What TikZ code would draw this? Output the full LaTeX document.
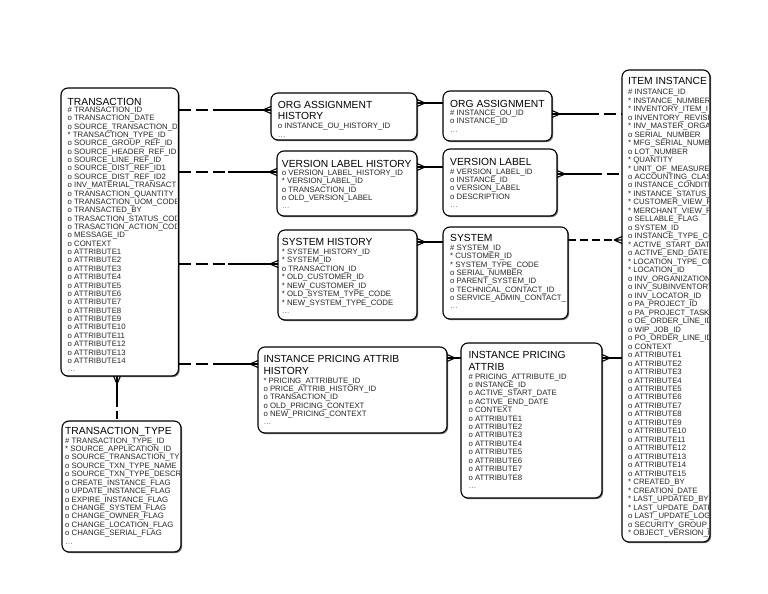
\documentclass[tikz,border=0pt]{standalone}
\usepackage{fontspec}
\newfontfamily\erfont{Liberation Sans}
\usetikzlibrary{calc,shadows}
\newcommand{\attrlist}[5]{\foreach \t [count=\i from 0] in {#5} {\node[attr] (#1-\i) at (#2,#3+\i*#4) {\t};}}
\newcommand{\crowW}[1]{\draw[conn] ($(#1)+(-8,0)$) -- ($(#1)+(0,-3.5)$) ($(#1)+(-8,0)$) -- (#1) ($(#1)+(-8,0)$) -- ($(#1)+(0,3.5)$);}
\newcommand{\crowE}[1]{\draw[conn] ($(#1)+(8,0)$) -- ($(#1)+(0,-3.5)$) ($(#1)+(8,0)$) -- (#1) ($(#1)+(8,0)$) -- ($(#1)+(0,3.5)$);}
\newcommand{\crowS}[1]{\draw[conn] ($(#1)+(0,8)$) -- ($(#1)+(-3.5,0)$) ($(#1)+(0,8)$) -- (#1) ($(#1)+(0,8)$) -- ($(#1)+(3.5,0)$);}
\newcommand{\clipbox}[1]{\clip ($(#1.north west)+(1.6,1.6)$) rectangle ($(#1.south east)+(-1.6,-1.6)$);}
\newcommand{\more}{\textcolor{black!60}{\ldots}}
\begin{document}
\begin{tikzpicture}[x=1pt,y=-1pt,
  ent/.style={draw=black, line width=1.1pt, rounded corners=7pt, fill=white, inner sep=0pt, outer sep=0pt, anchor=north west,
    drop shadow={shadow xshift=1.2pt, shadow yshift=-1.2pt, fill=black!70, opacity=0.8}},
  ttl/.style={anchor=base west, inner sep=0pt, font=\erfont\fontsize{10.3}{12}\selectfont},
  attr/.style={anchor=base west, inner sep=0pt, font=\erfont\fontsize{7.8}{8.4}\selectfont, text=black!85},
  conn/.style={line width=1.1pt, black},
  opt/.style={conn, dash pattern=on 12pt off 5pt},
]
\useasboundingbox[fill=white] (0,0) rectangle (768,594);

% ---------- entities ----------
\node[ent, minimum width=117.5pt, minimum height=288pt] (tr) at (61,88) {};
\node[ent, minimum width=119pt, minimum height=131pt] (tt) at (62,421) {};
\node[ent, minimum width=146pt, minimum height=47pt] (oah) at (271,93) {};
\node[ent, minimum width=140pt, minimum height=65pt] (vlh) at (277,151) {};
\node[ent, minimum width=139pt, minimum height=90pt] (sh) at (278,230) {};
\node[ent, minimum width=109pt, minimum height=50pt] (oa) at (443,91) {};
\node[ent, minimum width=114pt, minimum height=67pt] (vl) at (443,149) {};
\node[ent, minimum width=125pt, minimum height=92pt] (sys) at (443,227) {};
\node[ent, minimum width=189pt, minimum height=86pt] (ipah) at (258,347) {};
\node[ent, minimum width=141pt, minimum height=155pt] (ipa) at (461,343) {};
\node[ent, minimum width=88pt, minimum height=472pt] (item) at (622,70) {};

% ---------- TRANSACTION ----------
\begin{scope}
\clipbox{tr}
\node[ttl] (tr-t) at (67.5,105) {TRANSACTION};
\attrlist{tr}{67.5}{112.3}{8.37}{\# TRANSACTION\_ID, o TRANSACTION\_DATE, o SOURCE\_TRANSACTION\_D, * TRANSACTION\_TYPE\_ID, o SOURCE\_GROUP\_REF\_ID, o SOURCE\_HEADER\_REF\_ID, o SOURCE\_LINE\_REF\_ID, o SOURCE\_DIST\_REF\_ID1, o SOURCE\_DIST\_REF\_ID2, o INV\_MATERIAL\_TRANSACT, o TRANSACTION\_QUANTITY, o TRANSACTION\_UOM\_CODE, o TRANSACTED\_BY, o TRASACTION\_STATUS\_COD, o TRASACTION\_ACTION\_COD, o MESSAGE\_ID, o CONTEXT, o ATTRIBUTE1, o ATTRIBUTE2, o ATTRIBUTE3, o ATTRIBUTE4, o ATTRIBUTE5, o ATTRIBUTE6, o ATTRIBUTE7, o ATTRIBUTE8, o ATTRIBUTE9, o ATTRIBUTE10, o ATTRIBUTE11, o ATTRIBUTE12, o ATTRIBUTE13, o ATTRIBUTE14, \more}
\end{scope}

% ---------- TRANSACTION_TYPE ----------
\begin{scope}
\clipbox{tt}
\node[ttl] (tt-t) at (65,434.5) {TRANSACTION\_TYPE};
\attrlist{tt}{65}{443}{8.43}{\# TRANSACTION\_TYPE\_ID, * SOURCE\_APPLICATION\_ID, o SOURCE\_TRANSACTION\_TY, o SOURCE\_TXN\_TYPE\_NAME, o SOURCE\_TXN\_TYPE\_DESCR, o CREATE\_INSTANCE\_FLAG, o UPDATE\_INSTANCE\_FLAG, o EXPIRE\_INSTANCE\_FLAG, o CHANGE\_SYSTEM\_FLAG, o CHANGE\_OWNER\_FLAG, o CHANGE\_LOCATION\_FLAG, o CHANGE\_SERIAL\_FLAG, \more}
\end{scope}

% ---------- ORG ASSIGNMENT HISTORY ----------
\begin{scope}
\clipbox{oah}
\node[ttl] (oah-t1) at (277.7,108) {ORG ASSIGNMENT};
\node[ttl] (oah-t2) at (277.7,119.5) {HISTORY};
\attrlist{oah}{277.7}{128.7}{8.4}{o INSTANCE\_OU\_HISTORY\_ID, \more}
\end{scope}

% ---------- VERSION LABEL HISTORY ----------
\begin{scope}
\clipbox{vlh}
\node[ttl] (vlh-t) at (281.7,167) {VERSION LABEL HISTORY};
\attrlist{vlh}{281.7}{175.3}{8.4}{o VERSION\_LABEL\_HISTORY\_ID, * VERSION\_LABEL\_ID, o TRANSACTION\_ID, o OLD\_VERSION\_LABEL, \more}
\end{scope}

% ---------- SYSTEM HISTORY ----------
\begin{scope}
\clipbox{sh}
\node[ttl] (sh-t) at (281.7,245.7) {SYSTEM HISTORY};
\attrlist{sh}{281.7}{254.3}{8.45}{* SYSTEM\_HISTORY\_ID, * SYSTEM\_ID, o TRANSACTION\_ID, * OLD\_CUSTOMER\_ID, * NEW\_CUSTOMER\_ID, * OLD\_SYSTEM\_TYPE\_CODE, * NEW\_SYSTEM\_TYPE\_CODE, \more}
\end{scope}

% ---------- ORG ASSIGNMENT ----------
\begin{scope}
\clipbox{oa}
\node[ttl] (oa-t) at (450,107.3) {ORG ASSIGNMENT};
\attrlist{oa}{450}{115.3}{8.4}{\# INSTANCE\_OU\_ID, o INSTANCE\_ID, \more}
\end{scope}

% ---------- VERSION LABEL ----------
\begin{scope}
\clipbox{vl}
\node[ttl] (vl-t) at (450,165.3) {VERSION LABEL};
\attrlist{vl}{450}{174}{8.4}{\# VERSION\_LABEL\_ID, o INSTANCE\_ID, o VERSION\_LABEL, o DESCRIPTION, \more}
\end{scope}

% ---------- SYSTEM ----------
\begin{scope}
\clipbox{sys}
\node[ttl] (sys-t) at (450,241) {SYSTEM};
\attrlist{sys}{450}{250.5}{8.3}{\# SYSTEM\_ID, * CUSTOMER\_ID, * SYSTEM\_TYPE\_CODE, o SERIAL\_NUMBER, o PARENT\_SYSTEM\_ID, o TECHNICAL\_CONTACT\_ID, o SERVICE\_ADMIN\_CONTACT\_, \more}
\end{scope}

% ---------- INSTANCE PRICING ATTRIB HISTORY ----------
\begin{scope}
\clipbox{ipah}
\node[ttl] (ipah-t1) at (263.3,362.3) {INSTANCE PRICING ATTRIB};
\node[ttl] (ipah-t2) at (263.3,374.3) {HISTORY};
\attrlist{ipah}{263.3}{383.3}{8.25}{* PRICING\_ATTRIBUTE\_ID, o PRICE\_ATTRIB\_HISTORY\_ID, o TRANSACTION\_ID, o OLD\_PRICING\_CONTEXT, o NEW\_PRICING\_CONTEXT, \more}
\end{scope}

% ---------- INSTANCE PRICING ATTRIB ----------
\begin{scope}
\clipbox{ipa}
\node[ttl] (ipa-t1) at (468.3,358.3) {INSTANCE PRICING};
\node[ttl] (ipa-t2) at (468.3,370.3) {ATTRIB};
\attrlist{ipa}{468.3}{379}{8.42}{\# PRICING\_ATTRIBUTE\_ID, o INSTANCE\_ID, o ACTIVE\_START\_DATE, o ACTIVE\_END\_DATE, o CONTEXT, o ATTRIBUTE1, o ATTRIBUTE2, o ATTRIBUTE3, o ATTRIBUTE4, o ATTRIBUTE5, o ATTRIBUTE6, o ATTRIBUTE7, o ATTRIBUTE8, \more}
\end{scope}

% ---------- ITEM INSTANCE ----------
\begin{scope}
\clipbox{item}
\node[ttl] (item-t) at (628,84.7) {ITEM INSTANCE};
\attrlist{item}{628}{94.7}{8.48}{\# INSTANCE\_ID, * INSTANCE\_NUMBER, * INVENTORY\_ITEM\_I, o INVENTORY\_REVISI, * INV\_MASTER\_ORGAN, o SERIAL\_NUMBER, * MFG\_SERIAL\_NUMBE, o LOT\_NUMBER, * QUANTITY, * UNIT\_OF\_MEASURE, o ACCOUNTING\_CLAS, o INSTANCE\_CONDITI, * INSTANCE\_STATUS\_, * CUSTOMER\_VIEW\_F, * MERCHANT\_VIEW\_F, o SELLABLE\_FLAG, o SYSTEM\_ID, o INSTANCE\_TYPE\_CO, * ACTIVE\_START\_DAT, o ACTIVE\_END\_DATE, * LOCATION\_TYPE\_CO, * LOCATION\_ID, o INV\_ORGANIZATION, o INV\_SUBINVENTORY, o INV\_LOCATOR\_ID, o PA\_PROJECT\_ID, o PA\_PROJECT\_TASK, o OE\_ORDER\_LINE\_ID, o WIP\_JOB\_ID, o PO\_ORDER\_LINE\_ID, o CONTEXT, o ATTRIBUTE1, o ATTRIBUTE2, o ATTRIBUTE3, o ATTRIBUTE4, o ATTRIBUTE5, o ATTRIBUTE6, o ATTRIBUTE7, o ATTRIBUTE8, o ATTRIBUTE9, o ATTRIBUTE10, o ATTRIBUTE11, o ATTRIBUTE12, o ATTRIBUTE13, o ATTRIBUTE14, o ATTRIBUTE15, * CREATED\_BY, * CREATION\_DATE, * LAST\_UPDATED\_BY, * LAST\_UPDATE\_DATE, o LAST\_UPDATE\_LOGIN, o SECURITY\_GROUP\_ID, * OBJECT\_VERSION\_N}
\end{scope}

% ---------- connectors ----------
\coordinate (c1a) at (tr.east |- 0,110);  \coordinate (c1b) at (oah.west |- 0,110);
\coordinate (c2a) at (tr.east |- 0,172);  \coordinate (c2b) at (vlh.west |- 0,172);
\coordinate (c3a) at (tr.east |- 0,264);  \coordinate (c3b) at (sh.west |- 0,264);
\coordinate (c4a) at (tr.east |- 0,364);  \coordinate (c4b) at (ipah.west |- 0,364);
\coordinate (c5a) at (oah.east |- 0,103); \coordinate (c5b) at (oa.west |- 0,103);
\coordinate (c6a) at (vlh.east |- 0,167); \coordinate (c6b) at (vl.west |- 0,167);
\coordinate (c7a) at (sh.east |- 0,242);  \coordinate (c7b) at (sys.west |- 0,242);
\coordinate (c8a) at (ipah.east |- 0,358); \coordinate (c8b) at (ipa.west |- 0,358);
\coordinate (c9a) at (oa.east |- 0,114);  \coordinate (c9b) at (item.west |- 0,114);
\coordinate (c10a) at (vl.east |- 0,174); \coordinate (c10b) at (item.west |- 0,174);
\coordinate (c11a) at (sys.east |- 0,240); \coordinate (c11b) at (item.west |- 0,240);
\coordinate (c12a) at (ipa.east |- 0,358); \coordinate (c12b) at (item.west |- 0,358);
\coordinate (c13a) at (tr.south -| 117,0); \coordinate (c13b) at (tt.north -| 117,0);

% TRANSACTION -> histories (dashed near TRANSACTION, solid near child)
\draw[opt] (c1a) -- ($(c1a)!0.5!(c1b)$);
\draw[conn] ($(c1a)!0.5!(c1b)$) -- (c1b);
\crowW{c1b}
\draw[opt] (c2a) -- ($(c2a)!0.5!(c2b)$);
\draw[conn] ($(c2a)!0.5!(c2b)$) -- (c2b);
\crowW{c2b}
\draw[opt] (c3a) -- ($(c3a)!0.5!(c3b)$);
\draw[conn] ($(c3a)!0.5!(c3b)$) -- (c3b);
\crowW{c3b}
\draw[opt] (c4a) -- ($(c4a)!0.5!(c4b)$);
\draw[conn] ($(c4a)!0.5!(c4b)$) -- (c4b);
\crowW{c4b}
% histories -> parents
\draw[conn] (c5a) -- (c5b); \crowE{c5a}
\draw[conn] (c6a) -- (c6b); \crowE{c6a}
\draw[conn] (c7a) -- (c7b); \crowE{c7a}
\draw[conn] (c8a) -- (c8b); \crowE{c8a}
% -> ITEM INSTANCE
\draw[conn] (c9a) -- ($(c9a)!0.5!(c9b)$);
\draw[opt] ($(c9a)!0.5!(c9b)$) -- (c9b);
\crowE{c9a}
\draw[conn] (c10a) -- ($(c10a)!0.5!(c10b)$);
\draw[opt] ($(c10a)!0.5!(c10b)$) -- (c10b);
\crowE{c10a}
\draw[opt, dash pattern=on 8pt off 4pt] (c11a) -- ($(c11b)+(-8,0)$);
\crowW{c11b}
\draw[conn] (c12a) -- (c12b); \crowE{c12a}
% TRANSACTION -> TRANSACTION_TYPE
\draw[conn] (c13a) -- ($(c13a)!0.5!(c13b)$);
\draw[opt, dash pattern=on 8pt off 4pt] ($(c13a)!0.5!(c13b)$) -- (c13b);
\crowS{c13a}
\end{tikzpicture}
\end{document}
